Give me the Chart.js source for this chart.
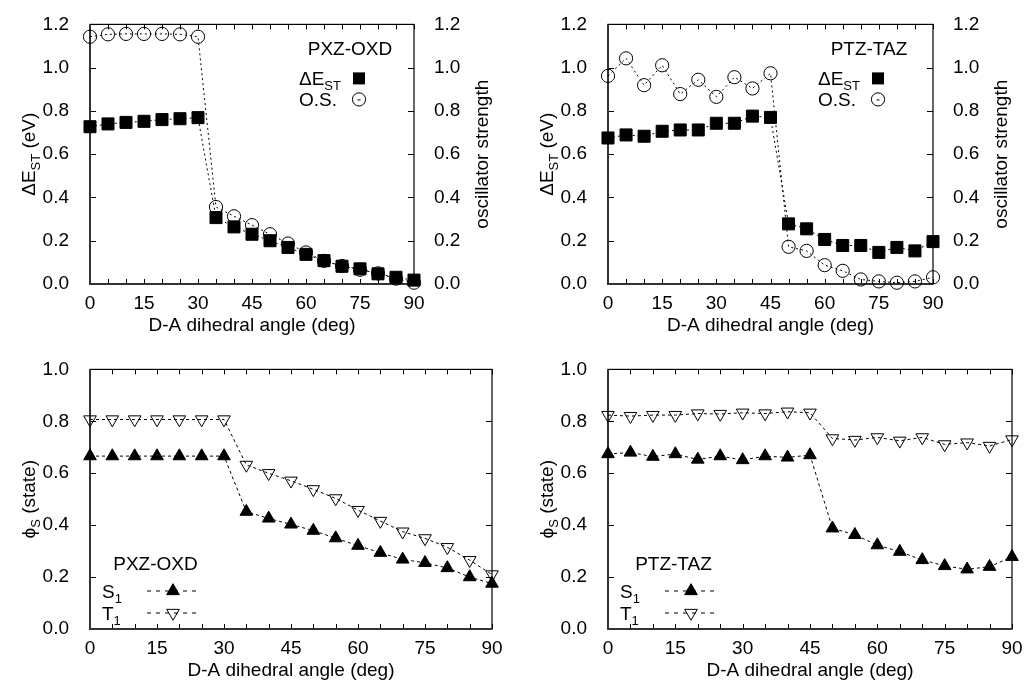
<!DOCTYPE html>
<html>
<head>
<meta charset="utf-8">
<script src="https://cdn.jsdelivr.net/npm/chart.js"></script>
<style>
  html, body { margin: 0; padding: 0; background: #fff; }
  #wrap { position: relative; width: 1024px; height: 689px; }
  canvas { position: absolute; }
</style>
</head>
<body>
<div id="wrap">
  <canvas id="pxzTop" width="512" height="345" style="left:0;top:0;width:512px;height:345px"></canvas>
  <canvas id="ptzTop" width="512" height="345" style="left:512px;top:0;width:512px;height:345px"></canvas>
  <canvas id="pxzBot" width="512" height="344" style="left:0;top:345px;width:512px;height:344px"></canvas>
  <canvas id="ptzBot" width="512" height="344" style="left:512px;top:345px;width:512px;height:344px"></canvas>
</div>
<script>
// dihedral angles (deg)
const angles = [0, 5, 10, 15, 20, 25, 30, 35, 40, 45, 50, 55, 60, 65, 70, 75, 80, 85, 90];
const xTickLabels = [0, 15, 30, 45, 60, 75, 90];
const yTicksTop = [0, 0.2, 0.4, 0.6, 0.8, 1.0, 1.2];
const yTicksBottom = [0, 0.2, 0.4, 0.6, 0.8, 1.0];

// PXZ-OXD
const pxzDeltaEst = [0.727, 0.740, 0.747, 0.752, 0.760, 0.764, 0.769, 0.307, 0.264, 0.230, 0.200, 0.169, 0.137, 0.108, 0.082, 0.070, 0.047, 0.031, 0.018];
const pxzOscStr   = [1.143, 1.154, 1.156, 1.156, 1.156, 1.154, 1.143, 0.356, 0.313, 0.272, 0.230, 0.187, 0.146, 0.107, 0.083, 0.066, 0.049, 0.025, 0.006];
const pxzS1 = [0.666, 0.666, 0.666, 0.666, 0.666, 0.666, 0.666, 0.452, 0.426, 0.403, 0.379, 0.350, 0.321, 0.294, 0.268, 0.255, 0.235, 0.200, 0.175];
const pxzT1 = [0.807, 0.807, 0.807, 0.807, 0.807, 0.807, 0.807, 0.632, 0.600, 0.571, 0.538, 0.503, 0.458, 0.416, 0.375, 0.349, 0.315, 0.265, 0.210];

// PTZ-TAZ
const ptzDeltaEst = [0.675, 0.689, 0.683, 0.706, 0.712, 0.712, 0.743, 0.743, 0.776, 0.770, 0.278, 0.255, 0.206, 0.178, 0.178, 0.146, 0.169, 0.153, 0.196];
const ptzOscStr   = [0.962, 1.043, 0.919, 1.011, 0.878, 0.944, 0.865, 0.956, 0.904, 0.974, 0.172, 0.153, 0.087, 0.061, 0.021, 0.012, 0.006, 0.012, 0.031];
const ptzS1 = [0.674, 0.680, 0.664, 0.674, 0.653, 0.666, 0.651, 0.666, 0.661, 0.670, 0.388, 0.363, 0.323, 0.298, 0.266, 0.243, 0.230, 0.240, 0.278];
const ptzT1 = [0.824, 0.820, 0.824, 0.824, 0.830, 0.828, 0.833, 0.830, 0.837, 0.833, 0.734, 0.728, 0.738, 0.725, 0.738, 0.711, 0.718, 0.705, 0.730];

const FAMILY = '"Liberation Sans", Arial, "DejaVu Sans", sans-serif';
const MAIN = '19px ' + FAMILY;
const SUB = '13px ' + FAMILY;
Chart.defaults.font.family = FAMILY;
Chart.defaults.font.size = 19;
Chart.defaults.color = '#000';

const deltaEstLabel = [{t: 'ΔE'}, {t: 'ST', sub: true}];
const phiLabel = [{t: 'ϕ'}, {t: 'S', sub: true}, {t: ' (state)'}];

// extra drawing per panel: frame, inward ticks, rich titles, key
const panelInfo = {
  pxzTop: { name: 'PXZ-OXD', top: true, yTitle: deltaEstLabel.concat([{t: ' (eV)'}]), y2Title: 'oscillator strength',
            key: [{label: deltaEstLabel, marker: 'rect'}, {label: [{t: 'O.S.'}], marker: 'circle'}] },
  ptzTop: { name: 'PTZ-TAZ', top: true, yTitle: deltaEstLabel.concat([{t: ' (eV)'}]), y2Title: 'oscillator strength',
            key: [{label: deltaEstLabel, marker: 'rect'}, {label: [{t: 'O.S.'}], marker: 'circle'}] },
  pxzBot: { name: 'PXZ-OXD', top: false, yTitle: phiLabel,
            key: [{label: [{t: 'S'}, {t: '1', sub: true}], marker: 'up'}, {label: [{t: 'T'}, {t: '1', sub: true}], marker: 'down'}] },
  ptzBot: { name: 'PTZ-TAZ', top: false, yTitle: phiLabel,
            key: [{label: [{t: 'S'}, {t: '1', sub: true}], marker: 'up'}, {label: [{t: 'T'}, {t: '1', sub: true}], marker: 'down'}] }
};

function richText(ctx, parts, x, y, rot, align) {
  ctx.save();
  ctx.translate(x, y);
  if (rot) ctx.rotate(rot);
  const widths = parts.map(p => { ctx.font = p.sub ? SUB : MAIN; return ctx.measureText(p.t).width; });
  const total = widths.reduce((s, w) => s + w, 0);
  let cx = align === 'left' ? 0 : -total / 2;
  ctx.fillStyle = '#000';
  ctx.textBaseline = 'alphabetic';
  ctx.textAlign = 'left';
  parts.forEach((p, i) => {
    ctx.font = p.sub ? SUB : MAIN;
    ctx.fillText(p.t, cx, p.sub ? 12 : 7);
    cx += widths[i];
  });
  ctx.restore();
}

function marker(ctx, type, x, y) {
  ctx.save();
  ctx.strokeStyle = '#000';
  ctx.fillStyle = '#000';
  ctx.lineWidth = 1;
  ctx.setLineDash([]);
  ctx.beginPath();
  if (type === 'rect') {
    ctx.fillRect(x - 6, y - 6, 12, 12);
  } else if (type === 'circle') {
    ctx.arc(x, y, 6.6, 0, Math.PI * 2);
    ctx.stroke();
    ctx.beginPath();
    ctx.moveTo(x - 1.5, y + 0.5); ctx.lineTo(x + 1.5, y + 0.5);
    ctx.stroke();
  } else {
    const r = 7.3, s = type === 'up' ? 1 : -1;
    ctx.moveTo(x, y - s * r);
    ctx.lineTo(x + 0.866 * r, y + s * 0.5 * r);
    ctx.lineTo(x - 0.866 * r, y + s * 0.5 * r);
    ctx.closePath();
    if (type === 'up') ctx.fill();
    ctx.stroke();
  }
  ctx.restore();
}

const gnuPlugin = {
  id: 'gnu',
  beforeDatasetsDraw(chart) {
    const {ctx, chartArea: a, scales} = chart;
    const yr = scales.y2 || scales.y;
    ctx.save();
    ctx.strokeStyle = '#000';
    ctx.lineWidth = 1;
    ctx.beginPath();
    angles.forEach(v => {
      const px = Math.round(scales.x.getPixelForValue(v)) + 0.5;
      ctx.moveTo(px, a.bottom); ctx.lineTo(px, a.bottom - 5);
      ctx.moveTo(px, a.top); ctx.lineTo(px, a.top + 5);
    });
    scales.y.ticks.forEach(t => {
      const py = Math.round(scales.y.getPixelForValue(t.value)) + 0.5;
      ctx.moveTo(a.left, py); ctx.lineTo(a.left + 6, py);
    });
    yr.ticks.forEach(t => {
      const py = Math.round(yr.getPixelForValue(t.value)) + 0.5;
      ctx.moveTo(a.right, py); ctx.lineTo(a.right - 6, py);
    });
    ctx.stroke();
    ctx.lineWidth = 1.2;
    ctx.strokeRect(a.left, a.top, a.right - a.left, a.bottom - a.top);
    ctx.strokeStyle = '#333';
    ctx.lineWidth = 2;
    ctx.beginPath();
    ctx.moveTo(a.left, a.top); ctx.lineTo(a.left, a.bottom); ctx.lineTo(a.right, a.bottom);
    ctx.stroke();
    ctx.restore();
  },
  afterDraw(chart) {
    const info = panelInfo[chart.canvas.id];
    const {ctx, chartArea: a} = chart;
    const midY = (a.top + a.bottom) / 2;
    richText(ctx, info.yTitle, a.left - 62, midY, -Math.PI / 2);
    if (info.y2Title) richText(ctx, [{t: info.y2Title}], a.right + 67, midY, -Math.PI / 2);
    ctx.save();
    ctx.font = MAIN;
    ctx.fillStyle = '#000';
    ctx.textAlign = 'center';
    ctx.textBaseline = 'alphabetic';
    if (info.top) {
      ctx.fillText(info.name, a.right - 64, a.top + 31);
      info.key.forEach((k, i) => {
        const ky = a.top + 54 + i * 21;
        richText(ctx, k.label, a.right - 115, ky, 0, 'left');
        marker(ctx, k.marker, a.right - 55, ky);
      });
    } else {
      ctx.fillText(info.name, a.left + 65.5, a.bottom - 59);
      info.key.forEach((k, i) => {
        const ky = a.bottom - 38 + i * 22;
        richText(ctx, k.label, a.left + 12, ky, 0, 'left');
        ctx.save();
        ctx.strokeStyle = '#000';
        ctx.lineWidth = 1;
        ctx.setLineDash([4, 5]);
        ctx.beginPath();
        ctx.moveTo(a.left + 57, ky); ctx.lineTo(a.left + 108, ky);
        ctx.stroke();
        ctx.restore();
        marker(ctx, k.marker, a.left + 83, ky);
      });
    }
    ctx.restore();
  }
};

function series(values, style, axis) {
  const base = {
    data: angles.map((a, i) => ({x: a, y: values[i]})),
    yAxisID: axis || 'y',
    borderColor: '#000',
    borderWidth: 1,
    borderDash: [2, 3],
    fill: false,
    tension: 0,
    clip: false,
    pointBorderColor: '#000',
    pointBorderWidth: 1
  };
  if (style === 'rect') Object.assign(base, {pointStyle: 'rect', pointRadius: 8.5, pointBackgroundColor: '#000'});
  if (style === 'circle') Object.assign(base, {pointStyle: 'circle', pointRadius: 6.6, pointBackgroundColor: 'rgba(0,0,0,0)'});
  if (style === 'up') Object.assign(base, {pointStyle: 'triangle', pointRadius: 7.3, pointBackgroundColor: '#000', borderDash: [3, 3]});
  if (style === 'down') Object.assign(base, {pointStyle: 'triangle', pointRotation: 180, pointRadius: 7.3, pointBackgroundColor: 'rgba(0,0,0,0)', borderDash: [3, 3]});
  return base;
}

function panel(id, datasets, opt) {
  const yScale = (pos, width, pad) => ({
    type: 'linear', position: pos, min: 0, max: opt.yMax,
    afterBuildTicks: s => { s.ticks = opt.yTicks.map(v => ({value: v})); },
    ticks: {padding: pad, color: '#000', font: {size: 19}, callback: v => v.toFixed(1)},
    grid: {display: false}, border: {display: false},
    afterFit: s => { s.width = width; }
  });
  const scales = {
    x: {
      type: 'linear', min: 0, max: 90,
      afterBuildTicks: s => { s.ticks = xTickLabels.map(v => ({value: v})); },
      ticks: {padding: 0, color: '#000', font: {size: 19}, maxRotation: 0, autoSkip: false},
      grid: {display: false}, border: {display: false},
      title: {display: true, text: 'D-A dihedral angle (deg)', color: '#000', font: {size: 19}, padding: 0},
      afterFit: s => { s.height = opt.xHeight; }
    },
    y: yScale('left', opt.leftWidth, 13)
  };
  if (opt.rightWidth) scales.y2 = yScale('right', opt.rightWidth, 12);
  new Chart(document.getElementById(id), {
    type: 'line',
    data: {datasets},
    options: {
      responsive: false,
      animation: false,
      events: [],
      layout: {padding: {top: opt.padTop, right: opt.padRight || 0, left: 0, bottom: opt.padBottom}},
      plugins: {legend: {display: false}, tooltip: {enabled: false}},
      scales
    },
    plugins: [gnuPlugin]
  });
}

panel('pxzTop', [series(pxzDeltaEst, 'rect'), series(pxzOscStr, 'circle', 'y2')],
  {yMax: 1.2, yTicks: yTicksTop, leftWidth: 90, rightWidth: 98, xHeight: 53, padTop: 23, padBottom: 8});
panel('ptzTop', [series(ptzDeltaEst, 'rect'), series(ptzOscStr, 'circle', 'y2')],
  {yMax: 1.2, yTicks: yTicksTop, leftWidth: 96, rightWidth: 91, xHeight: 53, padTop: 23, padBottom: 8});
panel('pxzBot', [series(pxzS1, 'up'), series(pxzT1, 'down')],
  {yMax: 1.0, yTicks: yTicksBottom, leftWidth: 90, xHeight: 53, padTop: 24, padRight: 20, padBottom: 7});
panel('ptzBot', [series(ptzS1, 'up'), series(ptzT1, 'down')],
  {yMax: 1.0, yTicks: yTicksBottom, leftWidth: 96, xHeight: 53, padTop: 24, padRight: 12, padBottom: 7});
</script>
</body>
</html>
